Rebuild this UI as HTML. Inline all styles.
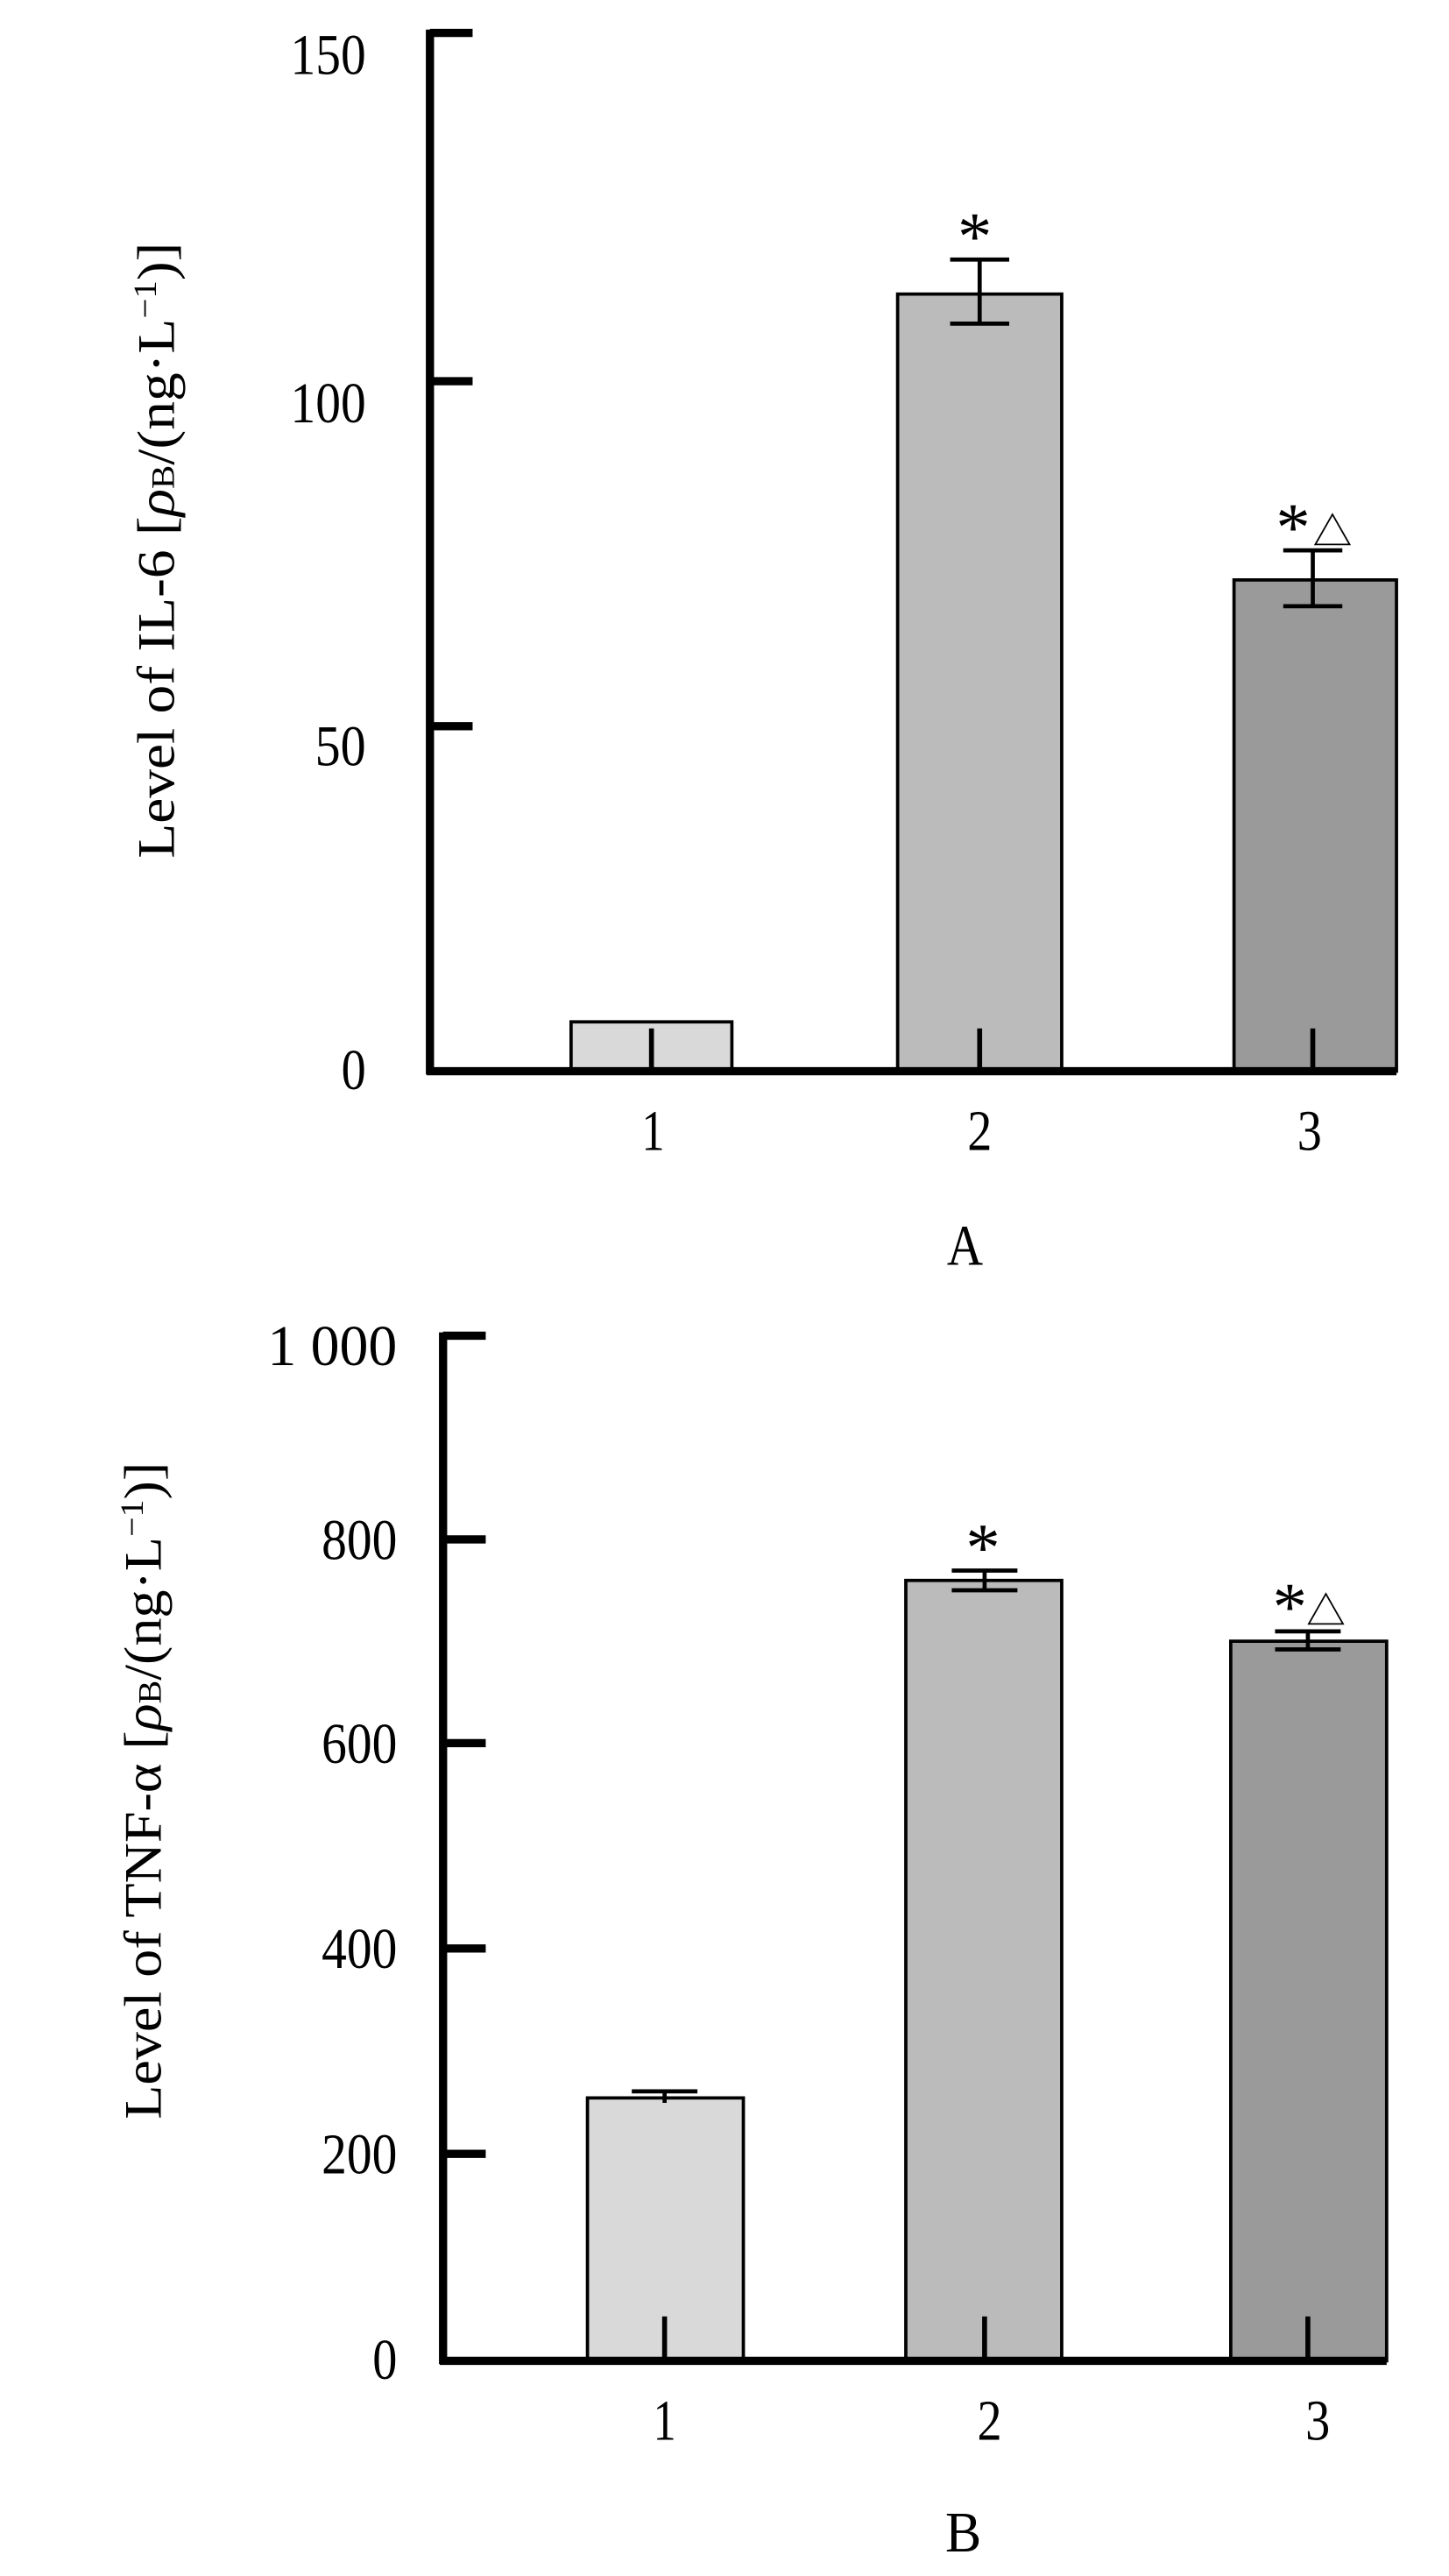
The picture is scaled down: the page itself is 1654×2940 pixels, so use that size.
<!DOCTYPE html>
<html><head><meta charset="utf-8"><style>
html,body{margin:0;padding:0;background:#fff;}
svg{display:block;}
text{font-family:"Liberation Serif","Noto Serif CJK SC",serif;fill:#000;}
</style></head><body>
<svg width="1654" height="2940" viewBox="0 0 883 1568" preserveAspectRatio="none" xmlns="http://www.w3.org/2000/svg">
<rect width="883" height="1568" fill="#fff"/>
<!-- Panel A -->
<g stroke="#000">
<rect x="348" y="622" width="98" height="30" fill="#d9d9d9" stroke-width="2"/>
<rect x="547" y="179" width="100" height="473" fill="#bbbbbb" stroke-width="2"/>
<rect x="752" y="353" width="99" height="299" fill="#9a9a9a" stroke-width="2"/>
<line x1="397" y1="626" x2="397" y2="652" stroke-width="3"/>
<line x1="597" y1="626" x2="597" y2="652" stroke-width="3"/>
<line x1="800" y1="626" x2="800" y2="652" stroke-width="3"/>
<g stroke-width="2.5">
<line x1="597" y1="158" x2="597" y2="197"/><line x1="579" y1="158" x2="615" y2="158"/><line x1="579" y1="197" x2="615" y2="197"/>
<line x1="800" y1="335" x2="800" y2="369"/><line x1="782" y1="335" x2="818" y2="335"/><line x1="782" y1="369" x2="818" y2="369"/>
</g>
<g stroke-width="5">
<line x1="262" y1="18" x2="262" y2="654"/>
<line x1="260" y1="652" x2="851" y2="652"/>
<line x1="262" y1="20" x2="288" y2="20"/>
<line x1="262" y1="232" x2="288" y2="232"/>
<line x1="262" y1="442" x2="288" y2="442"/>
</g>
</g>
<g font-size="35" text-anchor="end" lengthAdjust="spacingAndGlyphs">
<text x="223" y="45" textLength="46" lengthAdjust="spacingAndGlyphs">150</text>
<text x="223" y="257" textLength="46" lengthAdjust="spacingAndGlyphs">100</text>
<text x="223" y="466" textLength="31" lengthAdjust="spacingAndGlyphs">50</text>
<text x="223" y="663" textLength="15" lengthAdjust="spacingAndGlyphs">0</text>
</g>
<g font-size="35" text-anchor="middle">
<text x="398" y="700" textLength="14" lengthAdjust="spacingAndGlyphs">1</text>
<text x="597" y="700" textLength="15" lengthAdjust="spacingAndGlyphs">2</text>
<text x="798" y="700" textLength="15" lengthAdjust="spacingAndGlyphs">3</text>
<text x="588" y="770" textLength="22" lengthAdjust="spacingAndGlyphs">A</text>
<text x="594" y="158" font-size="42">*</text>
<text x="788" y="335" font-size="42">*</text>
<text x="812" y="332" font-size="24">△</text>
</g>
<text transform="translate(106,335) rotate(-90)" font-size="32" text-anchor="middle" textLength="375" lengthAdjust="spacingAndGlyphs">Level of IL-6 [<tspan font-style="italic">ρ</tspan><tspan font-size="20">B</tspan>/(ng·L<tspan font-size="20" dy="-11">−1</tspan><tspan dy="11">)]</tspan></text>

<!-- Panel B -->
<g stroke="#000">
<rect x="358" y="1277" width="95" height="160" fill="#d9d9d9" stroke-width="2"/>
<rect x="552" y="962" width="95" height="475" fill="#bbbbbb" stroke-width="2"/>
<rect x="750" y="999" width="95" height="438" fill="#9a9a9a" stroke-width="2"/>
<line x1="405" y1="1410" x2="405" y2="1437" stroke-width="3"/>
<line x1="600" y1="1410" x2="600" y2="1437" stroke-width="3"/>
<line x1="797" y1="1410" x2="797" y2="1437" stroke-width="3"/>
<g stroke-width="2.5">
<line x1="405" y1="1273" x2="405" y2="1280"/><line x1="385" y1="1273" x2="425" y2="1273"/>
<line x1="600" y1="956" x2="600" y2="968"/><line x1="580" y1="956" x2="620" y2="956"/><line x1="580" y1="968" x2="620" y2="968"/>
<line x1="797" y1="993" x2="797" y2="1004"/><line x1="777" y1="993" x2="817" y2="993"/><line x1="777" y1="1004" x2="817" y2="1004"/>
</g>
<g stroke-width="5">
<line x1="270" y1="811" x2="270" y2="1439"/>
<line x1="268" y1="1437" x2="845" y2="1437"/>
<line x1="270" y1="813" x2="296" y2="813"/>
<line x1="270" y1="937" x2="296" y2="937"/>
<line x1="270" y1="1061" x2="296" y2="1061"/>
<line x1="270" y1="1186" x2="296" y2="1186"/>
<line x1="270" y1="1311" x2="296" y2="1311"/>
</g>
</g>
<g font-size="35" text-anchor="end">
<text x="242" y="831" textLength="79" lengthAdjust="spacingAndGlyphs">1 000</text>
<text x="242" y="949" textLength="46" lengthAdjust="spacingAndGlyphs">800</text>
<text x="242" y="1073" textLength="46" lengthAdjust="spacingAndGlyphs">600</text>
<text x="242" y="1198" textLength="46" lengthAdjust="spacingAndGlyphs">400</text>
<text x="242" y="1323" textLength="46" lengthAdjust="spacingAndGlyphs">200</text>
<text x="242" y="1448" textLength="15" lengthAdjust="spacingAndGlyphs">0</text>
</g>
<g font-size="35" text-anchor="middle">
<text x="405" y="1485" textLength="14" lengthAdjust="spacingAndGlyphs">1</text>
<text x="603" y="1485" textLength="15" lengthAdjust="spacingAndGlyphs">2</text>
<text x="803" y="1485" textLength="15" lengthAdjust="spacingAndGlyphs">3</text>
<text x="587" y="1553" textLength="22" lengthAdjust="spacingAndGlyphs">B</text>
<text x="599" y="956" font-size="42">*</text>
<text x="786" y="992" font-size="42">*</text>
<text x="808" y="989" font-size="24">△</text>
</g>
<text transform="translate(98,1090) rotate(-90)" font-size="32" text-anchor="middle" textLength="400" lengthAdjust="spacingAndGlyphs">Level of TNF-α [<tspan font-style="italic">ρ</tspan><tspan font-size="20">B</tspan>/(ng·L<tspan font-size="20" dy="-11">−1</tspan><tspan dy="11">)]</tspan></text>
</svg>
</body></html>
